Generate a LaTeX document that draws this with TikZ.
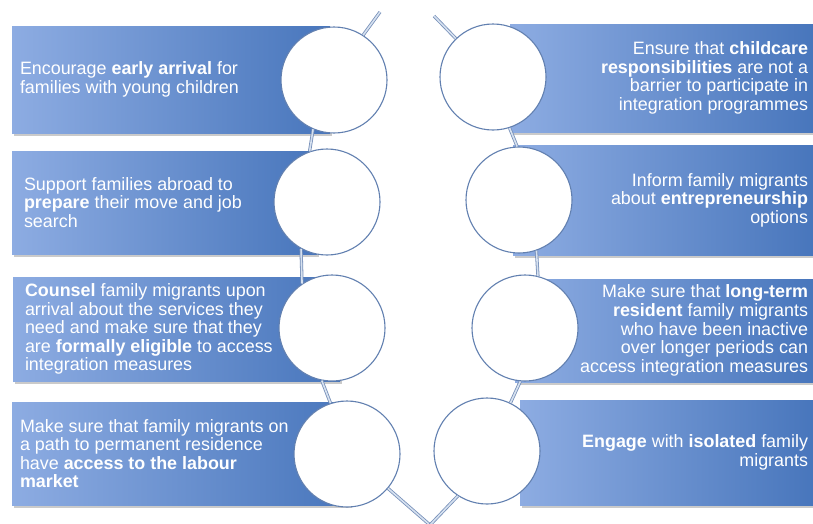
\documentclass[tikz,border=0pt]{standalone}
\usepackage{fontspec}
\setmainfont{Liberation Sans}
\usetikzlibrary{positioning,shadows}

\definecolor{boxlight}{RGB}{141,172,226}
\definecolor{boxdark}{RGB}{72,118,188}
\definecolor{ringline}{RGB}{98,128,176}
\definecolor{spineout}{RGB}{118,143,184}
\definecolor{spinein}{RGB}{214,225,240}

\begin{document}
\begin{tikzpicture}[x=1pt, y=-1pt, node distance=1cm,
	panel/.style={rectangle, left color=boxlight, right color=boxdark, inner sep=0pt,
		drop shadow={shadow xshift=2pt, shadow yshift=-3pt, fill=black!60, opacity=.35}},
	ring/.style={circle, draw=ringline, line width=1.1pt, fill=white, minimum size=106pt, inner sep=0pt},
	lefttext/.style={text=white, align=left, inner sep=0pt, font=\fontsize{17.9}{18.6}\selectfont},
	righttext/.style={text=white, align=right, inner sep=0pt, font=\fontsize{17.9}{18.6}\selectfont},
	spine/.style={draw=spineout, double=spinein, line width=0.8pt, double distance=1.6pt}]

	\useasboundingbox (0,0) rectangle (813,523);

	% boxes
	\node[panel, minimum width=318pt, minimum height=107pt] (bl1) at (171,79.5) {};
	\node[panel, minimum width=305pt, minimum height=103pt] (bl2) at (164.5,202.5) {};
	\node[panel, minimum width=327pt, minimum height=104pt] (bl3) at (176.5,329) {};
	\node[panel, minimum width=338pt, minimum height=103pt] (bl4) at (181,453.5) {};
	\node[panel, minimum width=303pt, minimum height=108pt] (br1) at (661.5,78) {};
	\node[panel, minimum width=300pt, minimum height=110pt] (br2) at (663,200) {};
	\node[panel, minimum width=298pt, minimum height=103pt] (br3) at (664,330.5) {};
	\node[panel, minimum width=293pt, minimum height=105pt] (br4) at (666.5,452.5) {};

	% spine ends
	\coordinate (lt) at (380,12);
	\coordinate (rt) at (434,16);
	\coordinate (bot) at (430,525);

	% circles
	\node[ring] (cl1) at (334,80) {};
	\node[ring] (cl2) at (327,202) {};
	\node[ring] (cl3) at (332,328) {};
	\node[ring] (cl4) at (347,454) {};
	\node[ring] (cr1) at (493,77) {};
	\node[ring] (cr2) at (519,200) {};
	\node[ring] (cr3) at (525,328) {};
	\node[ring] (cr4) at (487,451) {};

	% spine
	\draw[spine] (lt) -- (cl1.57);
	\draw[spine] (cl1.-113) -- (cl2.109);
	\draw[spine] (cl2.-119) -- (cl3.124);
	\draw[spine] (cl3.-101) -- (cl4.108);
	\draw[spine] (cl4.-40) -- (bot);
	\draw[spine] (rt) -- (cr1.134);
	\draw[spine] (cr1.-72) -- (cr2.92);
	\draw[spine] (cr2.-71) -- (cr3.76);
	\draw[spine] (cr3.-95) -- (cr4.64);
	\draw[spine] (cr4.-123) -- (bot);

	% texts
	\node[lefttext, right=8pt of bl1.west] (tl1) {Encourage \textbf{early arrival} for\\families with young children};
	\node[lefttext, right=12pt of bl2.west] (tl2) {Support families abroad to\\\textbf{prepare} their move and job\\search};
	\node[lefttext, right=12pt of bl3.west] (tl3) {\textbf{Counsel} family migrants upon\\arrival about the services they\\need and make sure that they\\are \textbf{formally eligible} to access\\integration measures};
	\node[lefttext, right=8pt of bl4.west] (tl4) {Make sure that family migrants on\\a path to permanent residence\\have \textbf{access to the labour}\\\textbf{market}};
	\node[righttext, left=5pt of br1.east] (tr1) {Ensure that \textbf{childcare}\\\textbf{responsibilities} are not a\\barrier to participate in\\integration programmes};
	\node[righttext, left=5pt of br2.east] (tr2) {Inform family migrants\\about \textbf{entrepreneurship}\\options};
	\node[righttext, left=5pt of br3.east] (tr3) {Make sure that \textbf{long-term}\\\textbf{resident} family migrants\\who have been inactive\\over longer periods can\\access integration measures};
	\node[righttext, left=5pt of br4.east] (tr4) {\textbf{Engage} with \textbf{isolated} family\\migrants};

\end{tikzpicture}
\end{document}
